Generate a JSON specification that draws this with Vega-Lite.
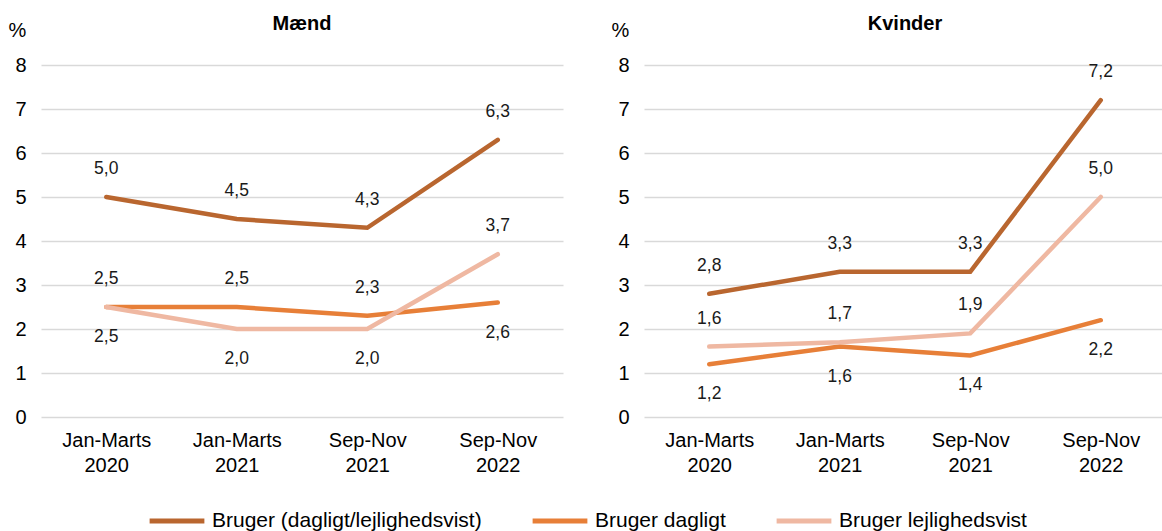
{
  "$schema": "https://vega.github.io/schema/vega-lite/v6.json",
  "background": "white",
  "padding": {"left": 8, "top": 14, "right": 0, "bottom": 0},
  "data": {"values": [
    {"panel": "Mænd", "series": "Bruger (dagligt/lejlighedsvist)", "period": "Jan-Marts 2020", "value": 5.0},
    {"panel": "Mænd", "series": "Bruger (dagligt/lejlighedsvist)", "period": "Jan-Marts 2021", "value": 4.5},
    {"panel": "Mænd", "series": "Bruger (dagligt/lejlighedsvist)", "period": "Sep-Nov 2021", "value": 4.3},
    {"panel": "Mænd", "series": "Bruger (dagligt/lejlighedsvist)", "period": "Sep-Nov 2022", "value": 6.3},
    {"panel": "Mænd", "series": "Bruger dagligt", "period": "Jan-Marts 2020", "value": 2.5},
    {"panel": "Mænd", "series": "Bruger dagligt", "period": "Jan-Marts 2021", "value": 2.5},
    {"panel": "Mænd", "series": "Bruger dagligt", "period": "Sep-Nov 2021", "value": 2.3},
    {"panel": "Mænd", "series": "Bruger dagligt", "period": "Sep-Nov 2022", "value": 2.6},
    {"panel": "Mænd", "series": "Bruger lejlighedsvist", "period": "Jan-Marts 2020", "value": 2.5},
    {"panel": "Mænd", "series": "Bruger lejlighedsvist", "period": "Jan-Marts 2021", "value": 2.0},
    {"panel": "Mænd", "series": "Bruger lejlighedsvist", "period": "Sep-Nov 2021", "value": 2.0},
    {"panel": "Mænd", "series": "Bruger lejlighedsvist", "period": "Sep-Nov 2022", "value": 3.7},
    {"panel": "Kvinder", "series": "Bruger (dagligt/lejlighedsvist)", "period": "Jan-Marts 2020", "value": 2.8},
    {"panel": "Kvinder", "series": "Bruger (dagligt/lejlighedsvist)", "period": "Jan-Marts 2021", "value": 3.3},
    {"panel": "Kvinder", "series": "Bruger (dagligt/lejlighedsvist)", "period": "Sep-Nov 2021", "value": 3.3},
    {"panel": "Kvinder", "series": "Bruger (dagligt/lejlighedsvist)", "period": "Sep-Nov 2022", "value": 7.2},
    {"panel": "Kvinder", "series": "Bruger dagligt", "period": "Jan-Marts 2020", "value": 1.2},
    {"panel": "Kvinder", "series": "Bruger dagligt", "period": "Jan-Marts 2021", "value": 1.6},
    {"panel": "Kvinder", "series": "Bruger dagligt", "period": "Sep-Nov 2021", "value": 1.4},
    {"panel": "Kvinder", "series": "Bruger dagligt", "period": "Sep-Nov 2022", "value": 2.2},
    {"panel": "Kvinder", "series": "Bruger lejlighedsvist", "period": "Jan-Marts 2020", "value": 1.6},
    {"panel": "Kvinder", "series": "Bruger lejlighedsvist", "period": "Jan-Marts 2021", "value": 1.7},
    {"panel": "Kvinder", "series": "Bruger lejlighedsvist", "period": "Sep-Nov 2021", "value": 1.9},
    {"panel": "Kvinder", "series": "Bruger lejlighedsvist", "period": "Sep-Nov 2022", "value": 5.0}
  ]},
  "transform": [
    {"calculate": "replace(format(datum.value, '.1f'), '.', ',')", "as": "label"},
    {"calculate": "datum.series == 'Bruger (dagligt/lejlighedsvist)' || (datum.panel == 'Mænd' && datum.series == 'Bruger dagligt' && datum.period != 'Sep-Nov 2022') || (datum.panel == 'Mænd' && datum.series == 'Bruger lejlighedsvist' && datum.period == 'Sep-Nov 2022') || (datum.panel == 'Kvinder' && datum.series == 'Bruger lejlighedsvist')", "as": "above"}
  ],
  "facet": {
    "column": {
      "field": "panel",
      "type": "nominal",
      "sort": ["Mænd", "Kvinder"],
      "title": null,
      "header": {"labelFontSize": 20, "labelFontWeight": "bold", "labelFont": "Liberation Sans", "labelColor": "#000000", "labelPadding": -14}
    }
  },
  "spacing": 48,
  "resolve": {"axis": {"y": "independent", "x": "independent"}},
  "spec": {
    "width": 522,
    "height": 352,
    "encoding": {
      "x": {
        "field": "period",
        "type": "nominal",
        "sort": ["Jan-Marts 2020", "Jan-Marts 2021", "Sep-Nov 2021", "Sep-Nov 2022"],
        "title": null,
        "axis": {"labelAngle": 0, "labelExpr": "split(datum.label, ' ')", "labelFontSize": 20, "labelLineHeight": 25, "labelPadding": 13, "domain": false, "ticks": false, "labelColor": "#000000", "labelFont": "Liberation Sans"}
      },
      "y": {
        "field": "value",
        "type": "quantitative",
        "scale": {"domain": [0, 8], "nice": false},
        "title": "%",
        "axis": {"values": [0, 1, 2, 3, 4, 5, 6, 7, 8], "labelOverlap": false, "domain": false, "ticks": false, "grid": true, "gridColor": "#d9d9d9", "gridWidth": 1.5, "labelFontSize": 20, "labelPadding": 15, "labelColor": "#000000", "labelFont": "Liberation Sans", "titleAngle": 0, "titleFontSize": 20, "titleFontWeight": "normal", "titleColor": "#000000", "titleFont": "Liberation Sans", "titleX": -24, "titleY": -35, "titleAlign": "center", "titleBaseline": "middle"}
      }
    },
    "layer": [
      {
        "mark": {"type": "line", "strokeWidth": 4.5, "strokeCap": "round", "strokeJoin": "miter"},
        "encoding": {
          "color": {
            "field": "series",
            "type": "nominal",
            "scale": {"domain": ["Bruger (dagligt/lejlighedsvist)", "Bruger dagligt", "Bruger lejlighedsvist"], "range": ["#B9662F", "#E77F38", "#EFB8A2"]},
            "legend": {"title": null, "orient": "none", "legendX": 106, "legendY": 426, "direction": "horizontal", "symbolType": "stroke", "symbolStrokeWidth": 5, "symbolSize": 3000, "labelFontSize": 21, "labelLimit": 500, "labelFont": "Liberation Sans", "labelColor": "#000000", "columnPadding": 40, "labelOffset": 5}
          }
        }
      },
      {
        "transform": [{"filter": "datum.above"}],
        "mark": {"type": "text", "dy": -28, "fontSize": 17.5, "font": "Liberation Sans", "color": "#1a1a1a"},
        "encoding": {"text": {"field": "label"}}
      },
      {
        "transform": [{"filter": "!datum.above"}],
        "mark": {"type": "text", "dy": 30, "fontSize": 17.5, "font": "Liberation Sans", "color": "#1a1a1a"},
        "encoding": {"text": {"field": "label"}}
      }
    ]
  },
  "config": {"view": {"stroke": null}, "font": "Liberation Sans"}
}
